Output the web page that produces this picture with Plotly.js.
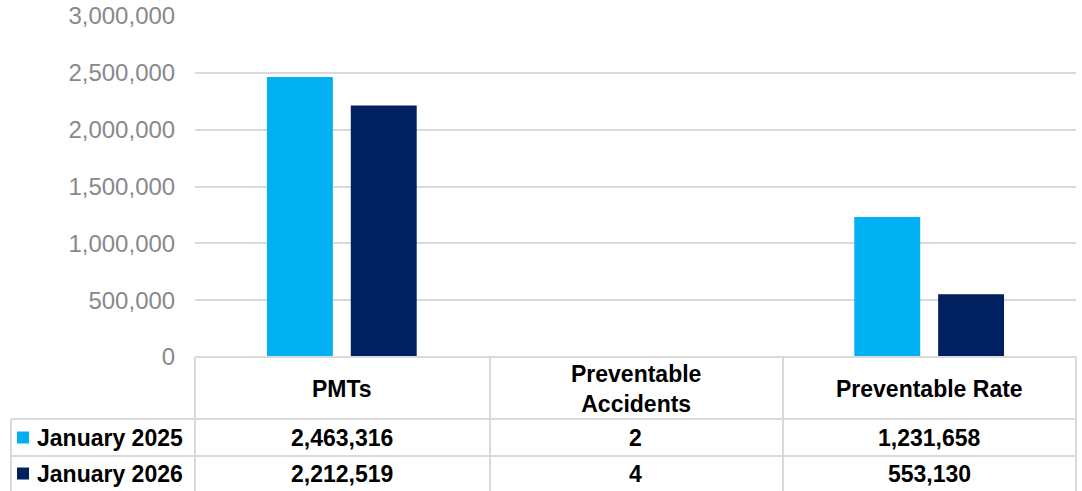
<!DOCTYPE html>
<html>
<head>
<meta charset="utf-8">
<script src="https://cdn.plot.ly/plotly-3.0.1.min.js"></script>
<style>
  html, body { margin: 0; padding: 0; background: #ffffff; }
  #chart { width: 1082px; height: 491px; }
</style>
</head>
<body>
<div id="chart"></div>
<script>
// ---- Data ----
const categories = ["PMTs", "Preventable Accidents", "Preventable Rate"];
const categoryLabels = ["PMTs", "Preventable<br>Accidents", "Preventable Rate"];
const seriesNames = ["January 2025", "January 2026"];
const values2025 = [2463316, 2, 1231658];
const values2026 = [2212519, 4, 553130];
const yTickValues = [0, 500000, 1000000, 1500000, 2000000, 2500000, 3000000];

// ---- Styling ----
const colors = ["#00B0F0", "#002060"];
const gridColor = "#d9d9d9";
const W = 1082, H = 491;
const fontFam = "Liberation Sans, Arial, sans-serif";

const px = x => x / W;
const py = y => 1 - y / H;

const plotLeft = 195, plotRight = 1076, plotTop = 16, plotBottom = 357;
const headerBottom = 419, row1Bottom = 456, row2Bottom = 493;
const tableLeft = 11;
const colBounds = [195, 490, 783, 1076];

const traces = [
  { type: "bar", x: categories, y: values2025, name: seriesNames[0],
    marker: { color: colors[0] }, hoverinfo: "skip" },
  { type: "bar", x: categories, y: values2026, name: seriesNames[1],
    marker: { color: colors[1] }, hoverinfo: "skip" }
];

const shapes = [];
const line = (x0, y0, x1, y1) => shapes.push({
  type: "line", xref: "paper", yref: "paper",
  x0: px(x0), y0: py(y0), x1: px(x1), y1: py(y1),
  line: { color: gridColor, width: 2 }, layer: "above"
});
// table horizontal borders
line(plotLeft, plotBottom, plotRight, plotBottom);
line(tableLeft, headerBottom, plotRight, headerBottom);
line(tableLeft, row1Bottom, plotRight, row1Bottom);
line(tableLeft, row2Bottom, plotRight, row2Bottom);
// vertical borders
line(tableLeft, headerBottom, tableLeft, row2Bottom);
colBounds.forEach(c => line(c, plotBottom, c, row2Bottom));

// legend keys
const rowCenters = [(headerBottom + row1Bottom) / 2, (row1Bottom + row2Bottom) / 2 - 1];
seriesNames.forEach((n, i) => {
  shapes.push({
    type: "rect", xref: "paper", yref: "paper",
    x0: px(17), x1: px(29), y0: py(rowCenters[i] - 6), y1: py(rowCenters[i] + 6),
    fillcolor: colors[i], line: { width: 0 }
  });
});

const annotations = [];
const tfont = { family: fontFam, size: 23, color: "#000000", weight: "bold" };
categoryLabels.forEach((lab, j) => {
  annotations.push({
    xref: "x", yref: "paper", x: categories[j], y: py((plotBottom + headerBottom) / 2 + 1),
    text: "<b>" + lab + "</b>", showarrow: false, font: tfont,
    xanchor: "center", yanchor: "middle"
  });
});
const allVals = [values2025, values2026];
seriesNames.forEach((n, i) => {
  annotations.push({
    xref: "paper", yref: "paper", x: px(35), y: py(rowCenters[i]),
    text: "<b>" + n + "</b>", showarrow: false, font: tfont,
    xanchor: "left", yanchor: "middle"
  });
  allVals[i].forEach((v, j) => {
    annotations.push({
      xref: "x", yref: "paper", x: categories[j], y: py(rowCenters[i]),
      text: "<b>" + v.toLocaleString("en-US") + "</b>", showarrow: false, font: tfont,
      xanchor: "center", yanchor: "middle"
    });
  });
});

const layout = {
  width: W, height: H,
  margin: { l: 0, r: 0, t: 0, b: 0 },
  paper_bgcolor: "#ffffff", plot_bgcolor: "#ffffff",
  showlegend: false,
  barmode: "group", bargap: 0.429, bargroupgap: 0.214,
  xaxis: {
    domain: [px(plotLeft), px(plotRight)],
    type: "category", categoryorder: "array", categoryarray: categories,
    showticklabels: false, showgrid: false, zeroline: false, showline: false, ticks: ""
  },
  yaxis: {
    domain: [py(plotBottom), py(plotTop)],
    range: [0, 3000000], tickvals: yTickValues, tickformat: ",",
    showgrid: true, gridcolor: gridColor, gridwidth: 2,
    zeroline: false, showline: false,
    ticks: "outside", ticklen: 14, tickcolor: "rgba(0,0,0,0)",
    tickfont: { family: fontFam, size: 24, color: "#898989" }
  },
  shapes: shapes,
  annotations: annotations,
  hovermode: false
};

Plotly.newPlot("chart", traces, layout, { displayModeBar: false, staticPlot: true });
</script>
</body>
</html>
